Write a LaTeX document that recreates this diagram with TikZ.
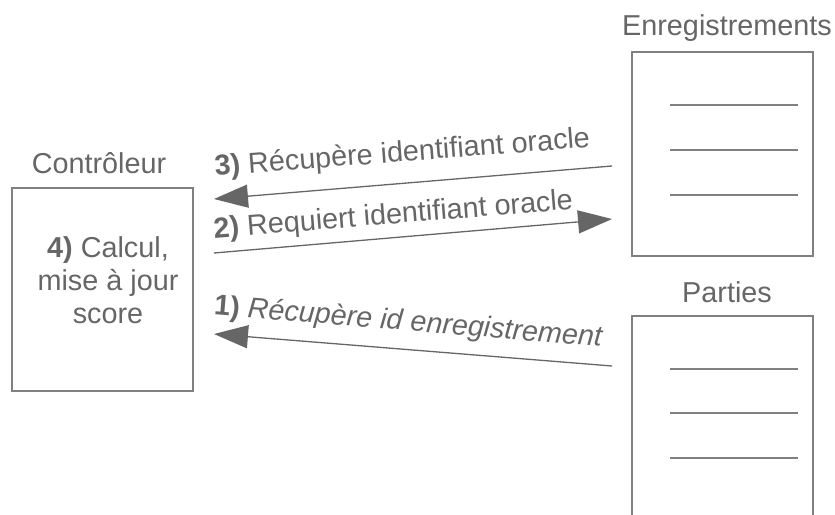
\documentclass[tikz,border=0pt]{standalone}
\usepackage{fontspec}
\setmainfont{Liberation Sans}
\usetikzlibrary{arrows.meta}
\definecolor{txt}{HTML}{666666}
\definecolor{boxc}{HTML}{808080}
\definecolor{arrc}{HTML}{666666}
\begin{document}
\begin{tikzpicture}[x=1pt,y=-1pt,
  lbl/.style={font=\fontsize{28.8}{33}\selectfont, text=txt, inner sep=0pt},
  store/.style={draw=boxc, line width=1.2pt, rectangle, inner sep=0pt, minimum width=181pt},
  sep/.style={draw=boxc, line width=1.4pt},
  arr/.style={draw=arrc, line width=1.3pt, -{Triangle[length=34pt,width=23pt]}, arrc}
]
\useasboundingbox (0,0) rectangle (835,514);
\clip (0,0) rectangle (835,514);
% boxes
\node[store, minimum height=203pt] (ctrl) at (102.5,289.5) {};
\node[store, minimum height=204pt] (enr) at (722.5,154) {};
\node[store, minimum height=250pt] (par) at (722.5,441) {};
% titles
\node[lbl, anchor=base] (tctrl) at (99,173) {Contrôleur};
\node[lbl, anchor=base] (tenr) at (727,35) {Enregistrements};
\node[lbl, anchor=base] (tpar) at (727,302) {Parties};
% controller text
\node[lbl, anchor=base, align=center] (calc) at (108,323) {\textbf{4)} Calcul,\\mise à jour\\score};
% separator lines
\foreach \y [count=\i] in {105,150,195} {
  \coordinate (e\i a) at (670,\y); \coordinate (e\i b) at (798,\y);
  \draw[sep] (e\i a) -- (e\i b);
}
\foreach \y [count=\i] in {369,413,458} {
  \coordinate (p\i a) at (670,\y); \coordinate (p\i b) at (798,\y);
  \draw[sep] (p\i a) -- (p\i b);
}
% arrow end points
\coordinate (a3s) at (612,166);
\coordinate (a3e) at (214,199);
\coordinate (a2s) at (214,253);
\coordinate (a2e) at (612,219);
\coordinate (a1s) at (612,366);
\coordinate (a1e) at (214,334);
\draw[arr] (a3s) -- (a3e);
\draw[arr] (a2s) -- (a2e);
\draw[arr] (a1s) -- (a1e);
% arrow labels
\node[lbl, anchor=base, rotate=4.4] (l3) at (403,161.5) {\textbf{3)} Récupère identifiant oracle};
\node[lbl, anchor=base, rotate=4.6] (l2) at (394,223.6) {\textbf{2)} Requiert identifiant oracle};
\node[lbl, anchor=base, rotate=-4.7] (l1) at (408,330.7) {\textbf{1)} \textit{Récupère id enregistrement}};
\end{tikzpicture}
\end{document}
